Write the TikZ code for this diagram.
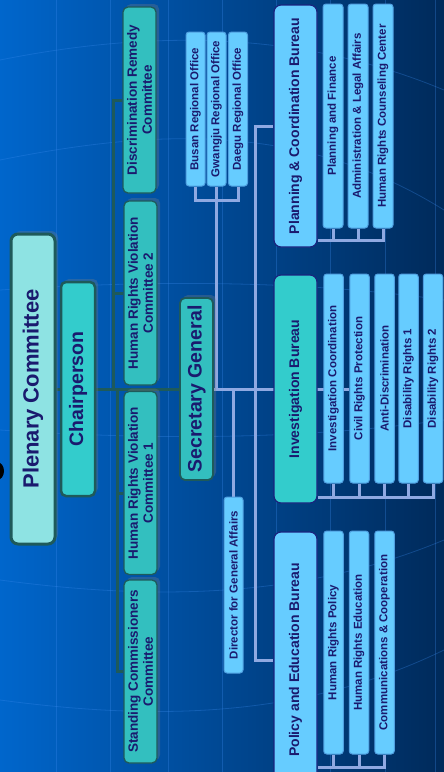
\documentclass[tikz,border=0pt]{standalone}
\usepackage{fontspec}
\setmainfont{Liberation Sans}
\usetikzlibrary{shadows,backgrounds,calc}
\pgfdeclarelayer{bgshade}
\pgfsetlayers{bgshade,background,main}
\definecolor{bgL}{HTML}{0066CC}
\definecolor{bgR}{HTML}{002A5A}
\definecolor{txt}{HTML}{1A1A6E}
\definecolor{dteal}{HTML}{1E5A5A}
\definecolor{plenfill}{HTML}{8EE3E3}
\definecolor{chairfill}{HTML}{33CCCC}
\definecolor{comfill}{HTML}{33BFBF}
\definecolor{bfill}{HTML}{66CCFF}
\definecolor{navy}{HTML}{1A237E}
\definecolor{subborder}{HTML}{4F9FE0}
\definecolor{lblue}{HTML}{8FA9E2}
\definecolor{gridc}{HTML}{3C8CF0}
\tikzset{
  rbox/.style={rotate=90, rounded corners=5pt, inner sep=1pt, align=center, text=txt, font=\bfseries},
  shad/.style={drop shadow={shadow xshift=3pt, shadow yshift=3pt, opacity=0.3}},
  plenbox/.style={rbox, shad, fill=plenfill, draw=dteal, line width=3pt, rounded corners=7pt, font=\bfseries\fontsize{22}{24}\selectfont},
  chairbox/.style={rbox, shad, fill=chairfill, draw=dteal, line width=2.5pt, font=\bfseries\fontsize{19.5}{21}\selectfont},
  sgbox/.style={rbox, shad, fill=comfill, draw=dteal, line width=1.8pt, font=\bfseries\fontsize{19.5}{21}\selectfont},
  combox/.style={rbox, shad, fill=comfill, draw=dteal, line width=1.3pt, font=\bfseries\fontsize{13.5}{15}\selectfont},
  bureau/.style={rbox, fill=bfill, draw=navy, line width=1.2pt, rounded corners=7pt, font=\bfseries\fontsize{14}{16}\selectfont},
  ibureau/.style={bureau, fill=chairfill},
  subbox/.style={rbox, fill=bfill, draw=subborder, line width=1pt, rounded corners=3pt, font=\bfseries\fontsize{11.5}{13}\selectfont},
  dk/.style={draw=dteal, line width=3pt},
  lb/.style={draw=lblue, line width=3pt},
  gridline/.style={draw=gridc, line width=0.8pt, opacity=0.3}
}
\begin{document}
\begin{tikzpicture}[x=1pt,y=-1pt]
\useasboundingbox (0,0) rectangle (444,772);
\clip (0,0) rectangle (444,772);
\begin{pgfonlayer}{bgshade}
  \shade[left color=bgL, right color=bgR] (0,0) rectangle (444,772);
  \foreach \gx in {56,110,168,222,276,330,385,435} {
    \draw[gridline] (\gx,0) -- (\gx,772);
  }
  \draw[gridline] (0,60) .. controls (150,30) and (300,30) .. (444,90);
  \draw[gridline] (0,160) .. controls (150,130) and (300,120) .. (444,210);
  \draw[gridline] (0,290) .. controls (150,280) and (300,280) .. (444,300);
  \draw[gridline] (0,430) .. controls (150,440) and (300,440) .. (444,420);
  \draw[gridline] (0,580) .. controls (150,600) and (300,600) .. (444,540);
  \draw[gridline] (0,700) .. controls (150,720) and (300,720) .. (444,650);
  \fill[black] (-3,471) ellipse (7pt and 9pt);
\end{pgfonlayer}

% left: governance
\node[plenbox, minimum width=310pt, minimum height=44pt] (plen) at (33,389) {Plenary Committee};
\node[chairbox, minimum width=214pt, minimum height=34pt] (chair) at (78,389) {Chairperson};
\node[combox, minimum width=186pt, minimum height=33pt] (drc) at (139.5,100) {Discrimination Remedy\\Committee};
\node[combox, minimum width=184pt, minimum height=33pt] (hrv2) at (140.5,293) {Human Rights Violation\\Committee 2};
\node[combox, minimum width=183pt, minimum height=33pt] (hrv1) at (140.5,483) {Human Rights Violation\\Committee 1};
\node[combox, minimum width=183pt, minimum height=33pt] (scc) at (140.5,671.5) {Standing Commissioners\\Committee};
\node[sgbox, minimum width=182pt, minimum height=33pt] (sg) at (196.5,389) {Secretary General};

% regional offices
\node[subbox, minimum width=154pt, minimum height=19pt] (busan) at (195.5,109) {Busan Regional Office};
\node[subbox, minimum width=154pt, minimum height=19pt] (gwangju) at (216.5,109) {Gwangju Regional Office};
\node[subbox, minimum width=154pt, minimum height=19pt] (daegu) at (238,109) {Daegu Regional Office};
\node[subbox, minimum width=176pt, minimum height=19pt] (dga) at (233.5,585) {Director for General Affairs};

% bureaus
\node[bureau, minimum width=242pt, minimum height=43pt] (pcb) at (295.5,126) {Planning \& Coordination Bureau};
\node[ibureau, minimum width=228pt, minimum height=43pt] (ib) at (295.5,389) {Investigation Bureau};
\node[bureau, minimum width=256pt, minimum height=43pt] (peb) at (295.5,660) {Policy and Education Bureau};

% planning subunits
\node[subbox, minimum width=224pt, minimum height=20pt] (pf) at (333,116) {Planning and Finance};
\node[subbox, minimum width=224pt, minimum height=20pt] (alf) at (358,116) {Administration \& Legal Affairs};
\node[subbox, minimum width=224pt, minimum height=20pt] (hrcc) at (383,116) {Human Rights Counseling Center};

% investigation subunits
\node[subbox, minimum width=209pt, minimum height=19.5pt] (ic) at (333.5,378.5) {Investigation Coordination};
\node[subbox, minimum width=209pt, minimum height=19.5pt] (crp) at (359.5,378.5) {Civil Rights Protection};
\node[subbox, minimum width=209pt, minimum height=19.5pt] (ad) at (384.5,378.5) {Anti-Discrimination};
\node[subbox, minimum width=209pt, minimum height=19.5pt] (dr1) at (408.5,378.5) {Disability Rights 1};
\node[subbox, minimum width=209pt, minimum height=19.5pt] (dr2) at (433,378.5) {Disability Rights 2};

% policy subunits
\node[subbox, minimum width=223pt, minimum height=19.5pt] (hrp) at (333.5,642.5) {Human Rights Policy};
\node[subbox, minimum width=223pt, minimum height=19.5pt] (hre) at (359,642.5) {Human Rights Education};
\node[subbox, minimum width=223pt, minimum height=19.5pt] (cc) at (384.5,642.5) {Communications \& Cooperation};

\begin{scope}[on background layer]
  \coordinate (tu) at (113,389);
  \coordinate (tl) at (117,389);
  \coordinate (h1) at ($(hrv1.north)+(0,10)$);
  \draw[dk] (plen.south) -- (sg.north);
  \draw[dk] (drc.north) -| (tu);
  \draw[dk] (hrv2.north) -- (hrv2.north -| tu);
  \draw[dk] (scc.north) -| (tl);
  \draw[dk] (h1) -- (h1 -| tl);

  \coordinate (rb) at (0,200);
  \coordinate (vx) at (255,389);
  \coordinate (pbar) at (0,240);
  \coordinate (ibar) at (0,497);
  \coordinate (ebar) at (0,767);
  \draw[lb] (sg.south) -- (sg.south -| crp.north);
  \draw[lb] (busan.west) -- (busan.west |- rb) -- (daegu.west |- rb) -- (daegu.west);
  \draw[lb] (gwangju.west) -- (gwangju.west |- sg.south);
  \draw[lb] (dga.east) -- (dga.east |- sg.south);
  \draw[lb] (pcb.north) -| (vx) |- (peb.north);

  \draw[lb] (pcb.south |- pbar) -- (hrcc.west |- pbar) -- (hrcc.west);
  \draw[lb] (pf.west) -- (pf.west |- pbar);
  \draw[lb] (alf.west) -- (alf.west |- pbar);

  \draw[lb] (ib.south |- ibar) -- (dr2.west |- ibar) -- (dr2.west);
  \foreach \n in {ic,crp,ad,dr1} { \draw[lb] (\n.west) -- (\n.west |- ibar); }

  \draw[lb] (peb.south |- ebar) -- (cc.west |- ebar) -- (cc.west);
  \foreach \n in {hrp,hre} { \draw[lb] (\n.west) -- (\n.west |- ebar); }
\end{scope}
\end{tikzpicture}
\end{document}
